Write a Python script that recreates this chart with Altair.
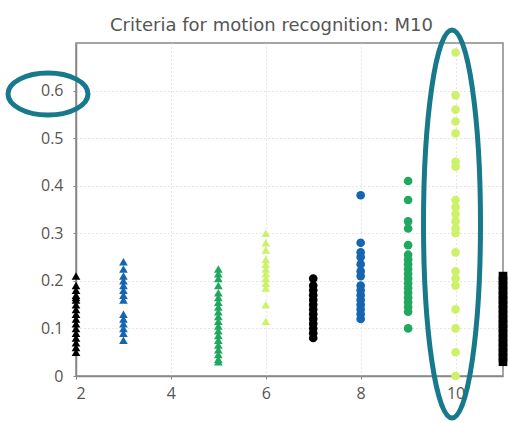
import altair as alt
import pandas as pd

# ---- data ----
x_positions = [2, 3, 5, 6, 7, 8, 9, 10, 11]
series_names = ["s2", "s3", "s5", "s6", "s7", "s8", "s9", "s10", "s11"]
series_colors = ["#000000", "#1565b0", "#1fa85e", "#cdf26a", "#000000", "#1565b0", "#1fa85e", "#cdf26a", "#000000"]
series_shapes = ["triangle-up", "triangle-up", "triangle-up", "triangle-up", "circle", "circle", "circle", "circle", "square"]

v2 = [0.21, 0.19, 0.18, 0.17, 0.165, 0.16, 0.15, 0.14, 0.13, 0.12, 0.11, 0.10, 0.09, 0.08, 0.07, 0.06, 0.05]
v3 = [0.24, 0.225, 0.21, 0.20, 0.19, 0.18, 0.17, 0.16, 0.13, 0.12, 0.11, 0.10, 0.09, 0.075]
v5 = [0.225, 0.215, 0.205, 0.19, 0.175, 0.165, 0.155, 0.145, 0.135, 0.125, 0.115, 0.105,
      0.095, 0.085, 0.075, 0.065, 0.055, 0.045, 0.035, 0.03]
v6 = [0.30, 0.28, 0.265, 0.245, 0.235, 0.225, 0.215, 0.205, 0.195, 0.185, 0.15, 0.115]
v7 = [0.205, 0.19, 0.18, 0.17, 0.16, 0.15, 0.14, 0.13, 0.12, 0.11, 0.10, 0.09, 0.08]
v8 = [0.38, 0.28, 0.26, 0.25, 0.235, 0.22, 0.21, 0.19, 0.18, 0.17, 0.16, 0.15, 0.14, 0.13, 0.12]
v9 = [0.41, 0.37, 0.325, 0.31, 0.275, 0.255, 0.245, 0.235, 0.225, 0.215, 0.205, 0.195,
      0.185, 0.175, 0.165, 0.155, 0.145, 0.135, 0.10]
v10 = [0.68, 0.59, 0.56, 0.535, 0.51, 0.45, 0.44, 0.37, 0.355, 0.34, 0.325, 0.31, 0.30,
       0.26, 0.22, 0.205, 0.19, 0.14, 0.10, 0.05, 0.0]
v11 = [0.21, 0.20, 0.19, 0.18, 0.17, 0.16, 0.15, 0.14, 0.13, 0.12, 0.11, 0.10, 0.09,
       0.08, 0.07, 0.06, 0.05, 0.04, 0.03]
all_values = [v2, v3, v5, v6, v7, v8, v9, v10, v11]

x_ticks = [2, 4, 6, 8, 10]
y_ticks = [0, 0.1, 0.2, 0.3, 0.4, 0.5, 0.6]
title_text = "Criteria for motion recognition: M10"

rows = []
for xp, name, vals in zip(x_positions, series_names, all_values):
    for v in vals:
        rows.append({"x": xp, "y": v, "series": name})
df = pd.DataFrame(rows)

teal = "#17798b"
k = 0.5523


def ellipse_path(a, b):
    return (f"M{a},0 C{a},{k*b} {k*a},{b} 0,{b} C{-k*a},{b} {-a},{k*b} {-a},0 "
            f"C{-a},{-k*b} {-k*a},{-b} 0,{-b} C{k*a},{-b} {a},{-k*b} {a},0 Z")


label_font = "Open Sans"

base = alt.Chart(df)
points = base.mark_point(filled=True, opacity=1, size=75).encode(
    x=alt.X("x:Q", scale=alt.Scale(domain=[2, 11], nice=False, zero=False),
            axis=alt.Axis(values=x_ticks, title=None, grid=True, format="d")),
    y=alt.Y("y:Q", scale=alt.Scale(domain=[0, 0.7], nice=False),
            axis=alt.Axis(values=y_ticks, title=None, grid=True, format="~g")),
    color=alt.Color("series:N", scale=alt.Scale(domain=series_names, range=series_colors), legend=None),
    shape=alt.Shape("series:N", scale=alt.Scale(domain=series_names, range=series_shapes), legend=None),
)

# annotation ellipses
ell_tall = alt.Chart(pd.DataFrame({"x": [10]})).mark_point(
    shape=ellipse_path(57 / 388, 1), size=388 ** 2, filled=False,
    stroke=teal, strokeWidth=5, opacity=1
).encode(x=alt.value(376), y=alt.value(181))

ell_label = alt.Chart(pd.DataFrame({"x": [0]})).mark_point(
    shape=ellipse_path(1, 42 / 80), size=80 ** 2, filled=False,
    stroke=teal, strokeWidth=5, opacity=1
).encode(x=alt.value(-28), y=alt.value(51))

chart = alt.layer(points, ell_tall, ell_label).properties(
    width=427, height=333,
    autosize=alt.AutoSizeParams(type="none"),
    padding={"left": 76, "top": 43, "right": 5, "bottom": 47},
    title=alt.TitleParams(title_text, fontSize=18, font="DejaVu Sans", color="#555555",
                          fontWeight="normal", anchor="middle", offset=12, dy=27, dx=-18),
).configure_view(
    stroke="#888888", strokeWidth=1.5
).configure_axis(
    labelFont=label_font, labelFontSize=16, labelColor="#555555",
    domainColor="#888888", domainWidth=1.5,
    tickColor="#888888", tickSize=3,
    gridColor="#cccccc", gridDash=[1, 3], gridWidth=1,
).configure_axisY(labelPadding=10).configure_axisX(labelPadding=6)

chart.save("out.html", embed_options={"renderer": "svg", "actions": False})
